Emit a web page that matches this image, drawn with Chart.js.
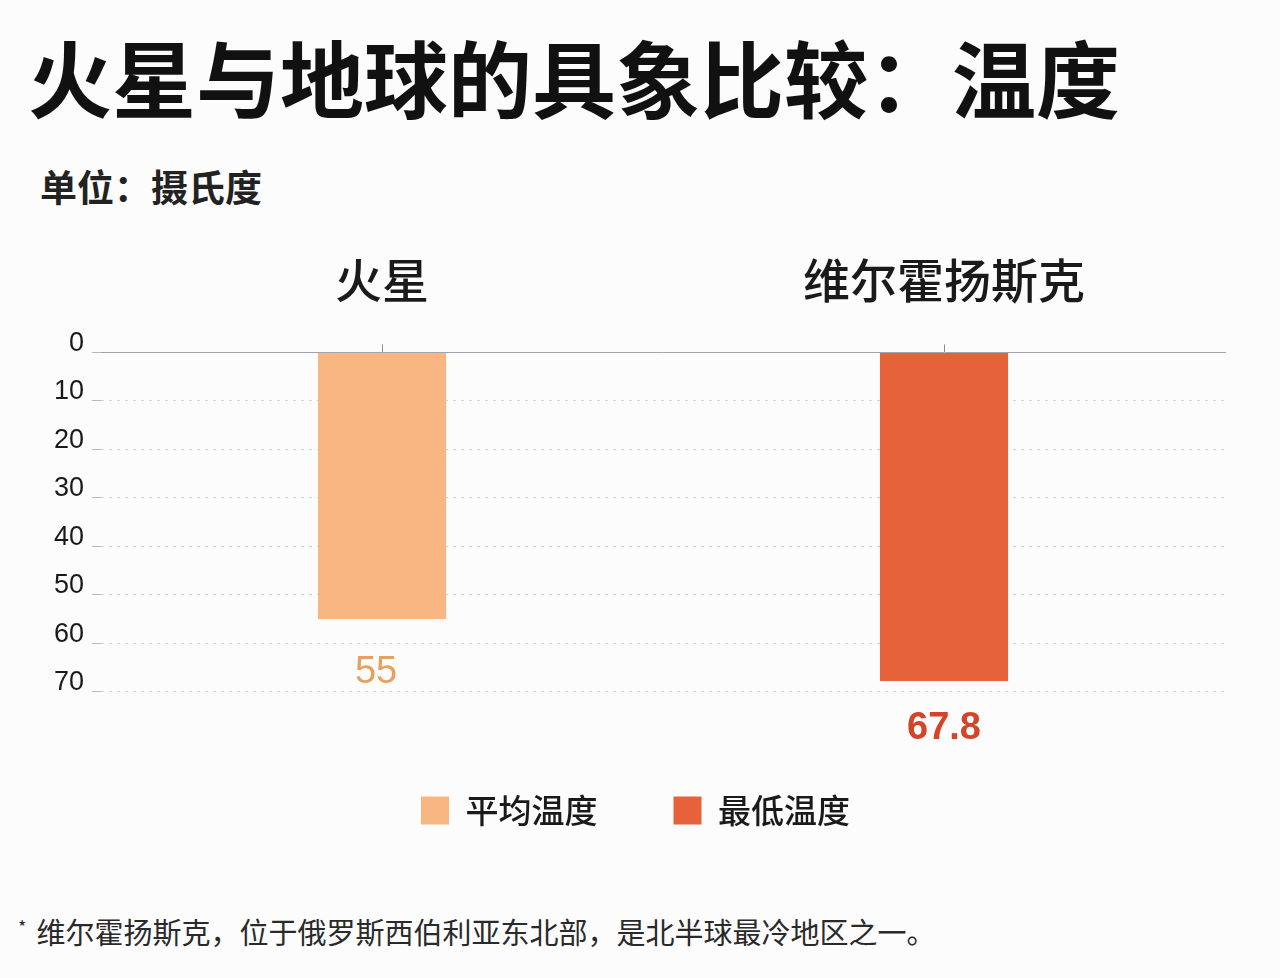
<!DOCTYPE html>
<html lang="zh-CN">
<head>
<meta charset="utf-8">
<title>火星与地球的具象比较：温度</title>
<script src="https://cdn.jsdelivr.net/npm/chart.js@4.4.1/dist/chart.umd.min.js"></script>
<style>
    html, body { margin: 0; padding: 0; background: #fcfcfd; }
    body { width: 1280px; height: 978px; position: relative; overflow: hidden; font-family: "Noto Sans CJK SC", "Noto Sans", sans-serif; color: #111; }
    .chart-title { position: absolute; left: 28px; top: 26px; margin: 0; font-size: 84px; line-height: 1.2; font-weight: 700; letter-spacing: 0; }
    .chart-unit { position: absolute; left: 40px; top: 164px; margin: 0; font-size: 37px; line-height: 1.2; font-weight: 700; color: #222; }
    .chart-box { position: absolute; left: 0; top: 216px; width: 1280px; height: 621px; }
    .chart-note { position: absolute; left: 18px; top: 914px; margin: 0; font-size: 29px; line-height: 1.2; color: #2a2a2a; }
    .chart-note sup { font-size: 18px; vertical-align: 10px; margin-right: 10px; }
</style>
</head>
<body>
<h1 class="chart-title">火星与地球的具象比较：温度</h1>
<p class="chart-unit">单位：摄氏度</p>
<div class="chart-box"><canvas id="temperature-chart"></canvas></div>
<p class="chart-note"><sup>*</sup>维尔霍扬斯克，位于俄罗斯西伯利亚东北部，是北半球最冷地区之一。</p>

<script>
const places = ["火星", "维尔霍扬斯克"];
const averageTemperature = [55, null];
const lowestTemperature = [null, 67.8];
const seriesNames = ["平均温度", "最低温度"];
const barColors = ["#f8b782", "#e5623a"];
const labelColors = ["#e9a05e", "#d2452a"];
const yTicks = [0, 10, 20, 30, 40, 50, 60, 70];

// value under the end of each bar
const valueLabels = {
    id: "valueLabels",
    afterDatasetsDraw(chart) {
        const { ctx } = chart;
        ctx.save();
        ctx.textAlign = "center";
        ctx.textBaseline = "alphabetic";
        chart.data.datasets.forEach((dataset, datasetIndex) => {
            const isLowest = datasetIndex === 1;
            chart.getDatasetMeta(datasetIndex).data.forEach((bar, index) => {
                const value = dataset.data[index];
                if (value === null || value === undefined) return;
                ctx.font = `${isLowest ? "bold " : ""}38px "Liberation Sans", Arial, sans-serif`;
                ctx.fillStyle = labelColors[datasetIndex];
                ctx.fillText(String(value), bar.x - (isLowest ? 0 : 6), bar.y + (isLowest ? 58 : 64));
            });
        });
        ctx.restore();
    }
};

new Chart(document.querySelector("#temperature-chart"), {
    type: "bar",
    data: {
        labels: places,
        datasets: [
            { label: seriesNames[0], data: averageTemperature, backgroundColor: barColors[0], borderWidth: 0 },
            { label: seriesNames[1], data: lowestTemperature, backgroundColor: barColors[1], borderWidth: 0 }
        ]
    },
    options: {
        responsive: true,
        maintainAspectRatio: false,
        animation: false,
        skipNull: true,
        categoryPercentage: 1,
        barPercentage: 0.228,
        layout: { padding: { left: 46, right: 55, top: 0, bottom: 0 } },
        scales: {
            x: {
                position: "top",
                grid: { drawOnChartArea: false, offset: false, tickLength: 8, color: "#8c8c99" },
                border: { display: true, color: "#a3a3b0", width: 1 },
                ticks: { color: "#1a1a1a", padding: 36, font: { family: "'Noto Sans CJK SC', sans-serif", size: 47, weight: "500" } }
            },
            y: {
                reverse: true,
                min: yTicks[0],
                max: yTicks[yTicks.length - 1],
                afterBuildTicks: (scale) => { scale.ticks = yTicks.map((value) => ({ value })); },
                grid: { color: "#d2d2d9", lineWidth: 1, tickLength: 9, tickColor: "#b8b8c0" },
                border: { display: false, dash: [3, 5] },
                ticks: { color: "#1a1a1a", padding: 8, labelOffset: -9, font: { family: "'Liberation Sans', Arial, sans-serif", size: 27 } }
            }
        },
        plugins: {
            legend: {
                position: "bottom",
                title: { display: true, text: "", padding: { top: 0, bottom: 12 }, font: { size: 12 } },
                labels: { boxWidth: 28, boxHeight: 28, padding: 76, color: "#1a1a1a", font: { family: "'Noto Sans CJK SC', sans-serif", size: 33, weight: "500" } }
            },
            tooltip: { enabled: false }
        }
    },
    plugins: [valueLabels]
});
</script>
</body>
</html>
